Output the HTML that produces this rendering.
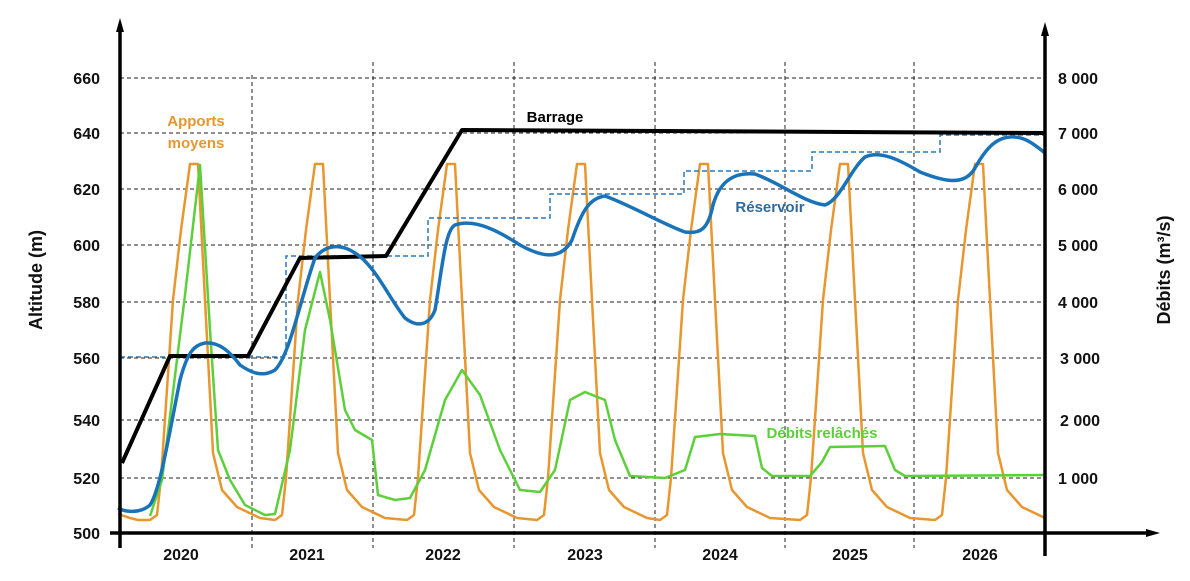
<!DOCTYPE html>
<html><head><meta charset="utf-8"><style>
body{margin:0;background:#fff;}
svg{display:block;font-family:"Liberation Sans",sans-serif;}
.t{font-size:16px;font-weight:bold;fill:#111;}
</style></head><body>
<svg width="1190" height="581" viewBox="0 0 1190 581" xmlns="http://www.w3.org/2000/svg">
<g stroke="#222" stroke-width="1" stroke-dasharray="4,3" fill="none">
<line x1="120" y1="78" x2="1045" y2="78"/><line x1="120" y1="133" x2="1045" y2="133"/>
<line x1="120" y1="189" x2="1045" y2="189"/><line x1="120" y1="245" x2="1045" y2="245"/>
<line x1="120" y1="302" x2="1045" y2="302"/><line x1="120" y1="358" x2="1045" y2="358"/>
<line x1="120" y1="420" x2="1045" y2="420"/><line x1="120" y1="478" x2="1045" y2="478"/>
<line x1="252" y1="75" x2="252" y2="548"/><line x1="373" y1="62" x2="373" y2="548"/>
<line x1="514" y1="62" x2="514" y2="548"/><line x1="655" y1="62" x2="655" y2="548"/>
<line x1="785" y1="62" x2="785" y2="548"/><line x1="914" y1="62" x2="914" y2="548"/>
</g>
<g class="t" text-anchor="end">
<text x="100" y="84">660</text><text x="100" y="139">640</text><text x="100" y="195">620</text>
<text x="100" y="251">600</text><text x="100" y="308">580</text><text x="100" y="364">560</text>
<text x="100" y="426">540</text><text x="100" y="484">520</text><text x="100" y="539">500</text>
</g>
<g class="t">
<text x="1058" y="84">8 000</text><text x="1058" y="139">7 000</text><text x="1058" y="195">6 000</text>
<text x="1058" y="251">5 000</text><text x="1058" y="308">4 000</text><text x="1060" y="364">3 000</text>
<text x="1060" y="426">2 000</text><text x="1058" y="484">1 000</text>
</g>
<g class="t" font-size="17" text-anchor="middle">
<text x="181" y="560">2020</text><text x="307" y="560">2021</text><text x="443" y="560">2022</text>
<text x="585" y="560">2023</text><text x="720" y="560">2024</text><text x="850" y="560">2025</text><text x="980" y="560">2026</text>
</g>
<text transform="translate(42,280) rotate(-90)" text-anchor="middle" font-size="18" font-weight="bold" fill="#111">Altitude (m)</text>
<text transform="translate(1170,270) rotate(-90)" text-anchor="middle" font-size="18" font-weight="bold" fill="#111">Débits  (m³/s)</text>
<path id="orange" fill="none" stroke="#e8962e" stroke-width="2.5" stroke-linejoin="round"/>
<polyline fill="none" stroke="#5ccf3a" stroke-width="2.5" stroke-linejoin="round" points="150,516 162,480 172,400 185,295 200,165 210,330 218,450 230,480 245,505 265,515 275,514 290,450 305,330 320,272 330,320 345,410 355,430 372,440 378,495 395,500 410,498 425,470 445,400 462,370 480,395 500,450 520,490 540,492 555,470 570,400 585,392 605,400 615,440 630,476 665,478 685,470 695,437 720,434 755,436 762,468 772,476 810,476 822,462 830,447 885,446 895,470 905,476 1045,475"/>
<polyline fill="none" stroke="#2a78b5" stroke-width="1.5" stroke-dasharray="5,3" points="120,357 286,357 286,256 428,256 428,218 550,218 550,194 684,194 684,171 812,171 812,152 940,152 940,135 1045,135"/>
<polyline fill="none" stroke="#000" stroke-width="4" stroke-linejoin="round" points="122,463 170,356 248,356 300,258 386,256 462,130 1045,133"/>
<path fill="none" stroke="#1a73b8" stroke-width="3.5" stroke-linejoin="round" d="M118,508 C125,512 140,514 150,505 C160,490 168,440 180,380 C188,350 195,345 205,343 C220,342 230,352 240,365 C250,372 262,378 275,370 C290,355 300,300 315,258 C325,245 340,243 355,253 C375,265 390,300 405,318 C415,326 428,328 435,310 C442,270 445,230 455,225 C475,218 500,232 520,245 C540,256 560,262 572,240 C582,210 590,198 605,196 C630,205 665,225 685,232 C700,234 708,230 713,205 C720,180 735,172 755,174 C780,183 805,203 825,205 C840,200 850,170 865,157 C880,150 900,160 920,172 C945,182 965,186 975,168 C985,150 995,138 1010,137 C1025,136 1035,145 1045,153"/>
<g stroke="#000" stroke-width="3.5" fill="none">
<line x1="120" y1="28" x2="120" y2="548"/>
<line x1="1045" y1="30" x2="1045" y2="556"/>
<line x1="110" y1="533" x2="1150" y2="533"/>
</g>
<polygon points="120,18 116,32 124,32" fill="#000"/>
<polygon points="1045,22 1041,36 1049,36" fill="#000"/>
<polygon points="1160,533 1146,529 1146,537" fill="#000"/>
<g font-weight="bold" font-size="15">
<text x="196" y="126" text-anchor="middle" fill="#e8962e">Apports</text>
<text x="196" y="148" text-anchor="middle" fill="#e8962e">moyens</text>
<text x="555" y="122" text-anchor="middle" fill="#000">Barrage</text>
<text x="770" y="212" text-anchor="middle" fill="#2e6aa0">Réservoir</text>
<text x="822" y="438" text-anchor="middle" fill="#5ccf3a">Débits relâchés</text>
</g>
<script>
var peaks=[190,315,447,577,700,840,975],pts=[[118,514],[130,518],[138,520]];
var off=[[-40,520],[-33,515],[-29,478],[-17,300],[-9,230],[0,164],[8,164],[15,300],[23,453],[32,490],[47,507],[70,518]];
peaks.forEach(function(p){off.forEach(function(o){pts.push([p+o[0],o[1]]);});});
pts=pts.filter(function(q){return q[0]<=1045;});
pts.push([1045,515]);
document.getElementById('orange').setAttribute('d','M'+pts.map(function(q){return q.join(',');}).join(' L'));
</script>
</svg>
</body></html>
